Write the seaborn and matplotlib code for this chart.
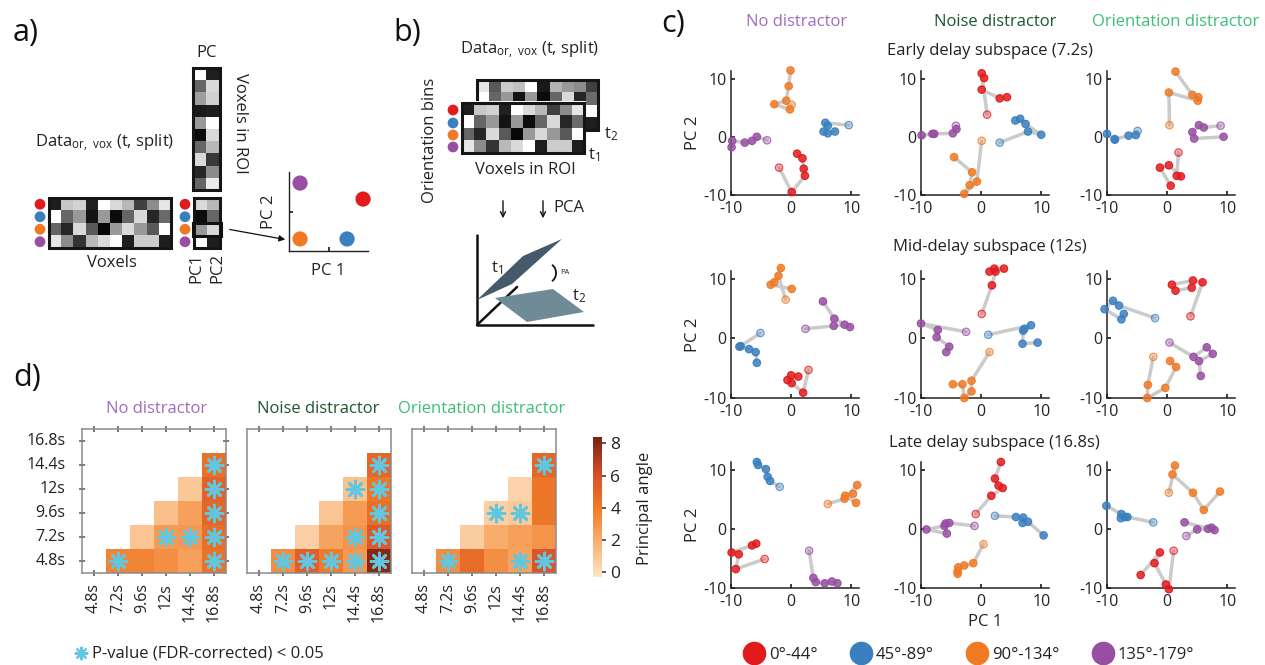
import numpy as np
import pandas as pd
import matplotlib
matplotlib.use("Agg")
import matplotlib.pyplot as plt
import seaborn as sns
from matplotlib.patches import Polygon, Rectangle, Arc
from matplotlib.lines import Line2D
from matplotlib.colors import LinearSegmentedColormap, to_rgba

# ---------------- data ----------------
bins = ["0°-44°", "45°-89°", "90°-134°", "135°-179°"]
bin_colors = ["#e31a1c", "#3a80c0", "#f07a24", "#984ea3"]
conditions = ["No distractor", "Noise distractor", "Orientation distractor"]
cond_colors = ["#a06cc0", "#1d5630", "#3dbf78"]
subspaces = ["Early delay subspace (7.2s)", "Mid-delay subspace (12s)", "Late delay subspace (16.8s)"]
times = ["4.8s", "7.2s", "9.6s", "12s", "14.4s", "16.8s"]

# PC1 / PC2 trajectories (first point = pale)
early_none = {
    "0°-44°": ([-2.0, 0.1, 2.3, 2.1, 1.9, 1.0], [-5.3, -9.5, -6.7, -5.5, -3.7, -2.9]),
    "45°-89°": ([9.6, 5.7, 6.1, 5.4, 6.1, 7.3], [2.0, 2.4, 1.9, 0.9, 0.6, 0.9]),
    "90°-134°": ([0.1, -0.2, -2.8, -0.8, -0.4, -0.1], [5.5, 4.7, 5.6, 6.2, 8.7, 11.4]),
    "135°-179°": ([-4.0, -5.7, -6.5, -7.7, -9.8, -9.9], [-0.6, 0.0, -0.7, -1.0, -0.7, -1.8]),
}
early_noise = {
    "0°-44°": ([1.0, 0.1, 0.5, 0.1, 3.1, 4.3], [3.8, 10.9, 10.1, 8.1, 6.6, 6.8]),
    "45°-89°": ([3.1, 7.8, 10.0, 7.4, 6.5, 5.7], [-1.0, 0.9, 0.35, 2.2, 3.1, 2.8]),
    "90°-134°": ([0.1, -0.7, -2.8, -1.9, -1.5, -4.5], [-0.7, -7.7, -9.8, -8.3, -6.1, -3.5]),
    "135°-179°": ([-4.2, -4.1, -4.7, -7.8, -8.1, -9.9], [1.9, 1.3, 0.6, 0.5, 0.5, 0.25]),
}
early_orient = {
    "0°-44°": ([1.9, 1.6, 2.3, 0.3, -1.2, 0.6], [-2.7, -6.7, -6.8, -4.9, -5.3, -8.4]),
    "45°-89°": ([-4.9, -5.2, -6.4, -8.7, -8.7, -10.0], [1.0, 0.3, 0.2, -0.4, -0.5, 0.5]),
    "90°-134°": ([0.4, 0.3, 5.1, 5.2, 4.2, 1.4], [2.0, 7.6, 6.2, 6.8, 7.2, 11.2]),
    "135°-179°": ([8.9, 6.1, 5.3, 4.2, 4.5, 9.4], [1.9, 1.6, 2.0, 0.8, -0.3, 0.0]),
}
mid_none = {
    "0°-44°": ([2.9, 2.0, 0.1, -0.6, 0.0, 1.2], [-5.3, -9.1, -7.5, -7.0, -6.2, -6.4]),
    "45°-89°": ([-5.1, -8.4, -8.6, -7.0, -5.9, -5.7], [0.9, -1.3, -1.4, -1.8, -2.3, -4.1]),
    "90°-134°": ([-0.9, -2.1, -1.7, -2.8, -3.4, 0.1], [6.5, 10.5, 11.8, 9.4, 9.0, 8.3]),
    "135°-179°": ([2.4, 7.1, 8.9, 9.8, 7.2, 5.3], [1.6, 2.1, 2.3, 1.9, 3.3, 6.2]),
}
mid_noise = {
    "0°-44°": ([0.1, 1.8, 2.4, 1.4, 2.2, 3.8], [4.1, 8.9, 11.2, 11.2, 11.7, 11.7]),
    "45°-89°": ([1.2, 8.3, 7.2, 7.0, 6.9, 9.4], [0.6, 2.2, 1.6, 1.3, -0.9, -0.7]),
    "90°-134°": ([1.4, -1.6, -1.6, -2.8, -3.1, -4.7], [-2.3, -7.1, -8.9, -10.0, -7.7, -7.7]),
    "135°-179°": ([-2.5, -10.0, -7.2, -7.4, -5.3, -5.8], [1.1, 2.5, 1.4, 0.2, -1.4, -2.3]),
}
mid_orient = {
    "0°-44°": ([3.9, 5.9, 4.3, 0.8, 1.4, 4.1], [3.7, 9.4, 9.7, 9.0, 8.0, 8.5]),
    "45°-89°": ([-2.0, -8.0, -9.0, -10.4, -7.6, -7.2], [3.4, 5.5, 6.3, 4.9, 3.2, 4.1]),
    "90°-134°": ([-2.3, -3.2, -3.3, -0.3, 1.5, 0.5], [-3.1, -7.8, -10.0, -8.3, -4.8, -3.8]),
    "135°-179°": ([0.4, 4.4, 6.6, 7.6, 5.3, 5.6], [-0.7, -3.1, -1.5, -2.6, -3.8, -6.3]),
}
late_none = {
    "0°-44°": ([-4.4, -9.2, -8.7, -9.9, -6.5, -5.8], [-5.1, -6.8, -4.3, -4.0, -2.8, -2.5]),
    "45°-89°": ([-1.9, -3.5, -3.9, -4.2, -5.5, -5.7], [7.1, 8.1, 8.8, 10.1, 10.8, 11.3]),
    "90°-134°": ([6.1, 8.9, 11.0, 10.3, 9.0, 10.8], [4.2, 5.1, 7.4, 5.9, 5.6, 4.4]),
    "135°-179°": ([3.0, 3.7, 4.1, 5.6, 6.8, 7.7], [-3.7, -8.3, -9.0, -9.2, -8.9, -9.2]),
}
late_noise = {
    "0°-44°": ([-0.9, 1.7, 3.6, 2.9, 2.3, 3.3], [2.5, 5.6, 6.9, 7.3, 8.5, 11.3]),
    "45°-89°": ([2.3, 5.8, 7.0, 6.9, 7.8, 10.4], [2.2, 2.0, 1.9, 1.0, 1.2, -1.1]),
    "90°-134°": ([0.4, -1.3, -2.8, -3.8, -3.9, -3.9], [-2.6, -5.8, -6.2, -6.5, -7.2, -7.6]),
    "135°-179°": ([-1.1, -5.3, -6.1, -9.1, -5.7, -5.9], [0.5, 1.0, 0.5, -0.1, -0.8, 0.9]),
}
late_orient = {
    "0°-44°": ([1.1, 0.3, -0.2, -2.1, -1.2, -4.4], [-3.7, -10.2, -9.4, -5.8, -4.0, -7.8]),
    "45°-89°": ([-2.3, -6.6, -7.0, -7.7, -7.6, -10.1], [1.1, 2.0, 2.0, 1.8, 2.5, 3.9]),
    "90°-134°": ([0.3, 1.3, 0.9, 4.3, 6.1, 8.8], [6.1, 10.7, 9.2, 6.1, 3.2, 6.3]),
    "135°-179°": ([3.2, 5.0, 6.8, 7.4, 7.9, 2.9], [-1.2, -0.1, 0.0, 0.2, -0.2, 1.1]),
}

nan = np.nan
# principal angle: row = first time, column = second time
pa_none = [[nan, 3.6, 3.7, 3.2, 2.5, 4.4],
           [nan, nan, 1.0, 2.7, 2.8, 4.6],
           [nan, nan, nan, 1.2, 2.5, 5.0],
           [nan, nan, nan, nan, 0.9, 5.2],
           [nan, nan, nan, nan, nan, 4.5],
           [nan, nan, nan, nan, nan, nan]]
pa_noise = [[nan, 3.3, 5.3, 4.0, 2.8, 8.0],
            [nan, nan, 0.6, 2.4, 3.0, 5.6],
            [nan, nan, nan, 1.0, 2.7, 4.5],
            [nan, nan, nan, nan, 1.1, 4.2],
            [nan, nan, nan, nan, nan, 5.0],
            [nan, nan, nan, nan, nan, nan]]
pa_orient = [[nan, 3.3, 4.7, 3.2, 2.4, 5.8],
             [nan, nan, 0.7, 2.0, 2.5, 3.0],
             [nan, nan, nan, 0.6, 0.8, 4.2],
             [nan, nan, nan, nan, 0.4, 4.3],
             [nan, nan, nan, nan, nan, 5.0],
             [nan, nan, nan, nan, nan, nan]]
sig_none = [(0, 1), (0, 5), (1, 3), (1, 4), (1, 5), (2, 5), (3, 5), (4, 5)]
sig_noise = [(0, 1), (0, 2), (0, 3), (0, 4), (0, 5), (1, 4), (1, 5), (2, 5), (3, 4), (3, 5), (4, 5)]
sig_orient = [(0, 1), (0, 4), (0, 5), (2, 3), (2, 4), (4, 5)]

# schematic data (panel a / b)
data_gray = [[0.12, 0.78, 0.82, 0.13, 1.0, 0.85, 0.72, 0.25, 0.55, 0.9],
             [1.0, 0.4, 0.6, 0.08, 0.6, 0.05, 0.4, 0.85, 0.15, 0.42],
             [0.4, 0.15, 0.85, 0.35, 0.03, 0.6, 0.85, 0.6, 0.35, 1.0],
             [0.9, 0.55, 0.2, 0.72, 0.85, 1.0, 0.12, 0.8, 0.8, 0.12]]
back_gray = [[0.9, 0.35, 0.8, 0.75, 1.0, 0.1, 0.7, 0.6, 0.55, 0.25],
             [1.0, 0.4, 0.6, 0.08, 0.6, 0.05, 0.4, 0.85, 0.15, 0.42],
             [0.5, 0.8, 0.3, 0.9, 0.2, 0.6, 0.95, 0.3, 0.7, 1.0],
             [0.3, 0.6, 0.9, 0.2, 0.5, 0.8, 0.4, 0.6, 0.3, 0.12]]
pc_gray = [[1.0, 0.12], [0.4, 0.85], [0.62, 0.82], [0.1, 0.12], [0.6, 1.0],
           [0.05, 0.85], [0.4, 0.72], [0.85, 0.22], [0.15, 0.55], [0.4, 0.92]]
proj_gray = [[0.85, 0.72], [0.05, 0.4], [0.6, 0.85], [1.0, 0.12]]
demo_pc1 = [3.75, 2.94, 0.56, 0.56]
demo_pc2 = [2.63, 0.61, 0.61, 3.44]

# ---------------- style ----------------
sns.set_theme(style="white")
plt.rcParams['font.family'] = ['Open Sans', 'DejaVu Sans']
plt.rcParams['mathtext.default'] = 'regular'
TXT = '#222222'
FS = 12

W, H = 1265, 665
fig = plt.figure(figsize=(W / 100, H / 100), dpi=100)


def fax(l, t, w, h, **kw):
    return fig.add_axes([l / W, 1 - (t + h) / H, w / W, h / H], **kw)


# overlay in pixel coordinates for schematics and labels
ax0 = fax(0, 0, W, H)
ax0.set_axis_off()
ax0.patch.set_alpha(0)


def gray_matrix(M, x0, y0, x1, y1, lw=2.2, z=2):
    ax0.imshow(np.array(M), cmap='gray', vmin=0, vmax=1, extent=(x0, x1, y1, y0),
               aspect='auto', interpolation='nearest', zorder=z)
    ax0.add_patch(Rectangle((x0, y0), x1 - x0, y1 - y0, fill=False, ec='#151515', lw=lw, zorder=z + 0.5))


def row_dots(x, y0, y1, n=4):
    h = (y1 - y0) / n
    ax0.scatter([x] * n, [y0 + (i + 0.5) * h for i in range(n)], s=60, c=bin_colors, zorder=6, lw=0)


# panel labels
for lab, x, y in [("a)", 13, 33), ("b)", 393, 33), ("c)", 661, 24), ("d)", 13, 378)]:
    ax0.text(x, y, lab, fontsize=22, va='center', ha='left', color='#111')

# ---- panel a ----
gray_matrix(data_gray, 49, 198, 171, 248)
row_dots(40, 198, 248)
gray_matrix(pc_gray, 193, 68, 220, 190)
gray_matrix(proj_gray, 194, 198, 220, 248)
row_dots(185, 198, 248)
ax0.add_patch(Rectangle((193, 223), 28, 13, fill=False, ec='#111', lw=2.2, zorder=5))
ax0.text(207, 53, "PC", fontsize=FS, ha='center', va='center', color=TXT)
ax0.text(240, 123, "Voxels in ROI", fontsize=FS, rotation=-90, ha='center', va='center', color=TXT)
ax0.text(105, 143, "Data$_{or,\\ vox}$ (t, split)", fontsize=FS, ha='center', va='center', color=TXT)
ax0.text(112, 263, "Voxels", fontsize=FS, ha='center', va='center', color=TXT)
ax0.text(196, 268, "PC1", fontsize=FS, rotation=90, ha='center', va='center', color=TXT)
ax0.text(217, 268, "PC2", fontsize=FS, rotation=90, ha='center', va='center', color=TXT)
ax0.annotate('', xy=(288, 240), xytext=(227, 229),
             arrowprops=dict(arrowstyle='-|>', color='#111', lw=0.9, mutation_scale=9))

axd = fax(289, 172, 79, 79)
sns.scatterplot(x=demo_pc1, y=demo_pc2, hue=bins, palette=bin_colors, s=120, ax=axd,
                legend=False, linewidth=0, clip_on=False)
axd.set(xlim=(0, 4), ylim=(0, 4), xticks=[2], yticks=[2], xticklabels=[], yticklabels=[])
sns.despine(ax=axd)
axd.tick_params(left=True, bottom=True, direction='in', length=3, color='#222')
for s in axd.spines.values():
    s.set_color('#222'); s.set_linewidth(1)
axd.set_xlabel("PC 1", fontsize=FS, color=TXT, labelpad=5)
axd.set_ylabel("PC 2", fontsize=FS, color=TXT, labelpad=5)
axd.patch.set_alpha(0)

# ---- panel b ----
ax0.text(530, 50, "Data$_{or,\\ vox}$ (t, split)", fontsize=FS, ha='center', va='center', color=TXT)
gray_matrix(back_gray, 477, 80, 598, 130, z=2)
ax0.add_patch(Rectangle((460, 101), 126, 54, fc='white', ec='none', zorder=3))
gray_matrix(data_gray, 462, 103, 584, 153, z=4)
ax0.scatter([453] * 4, [110, 123, 135, 147], s=60, c=bin_colors, zorder=6, lw=0)
ax0.text(611, 134, "t$_2$", fontsize=FS, ha='center', va='center', color=TXT)
ax0.text(594, 155, "t$_1$", fontsize=FS, ha='center', va='center', color=TXT)
ax0.text(430, 140, "Orientation bins", fontsize=FS, rotation=90, ha='center', va='center', color=TXT)
ax0.text(525, 170, "Voxels in ROI", fontsize=FS, ha='center', va='center', color=TXT)
for xa in (503, 543):
    ax0.annotate('', xy=(xa, 221), xytext=(xa, 198),
                 arrowprops=dict(arrowstyle='->', color='#111', lw=1.0, mutation_scale=9))
ax0.text(553, 208, "PCA", fontsize=FS, ha='left', va='center', color=TXT)
ax0.plot([477, 477, 593], [235, 325, 325], color='#111', lw=1.8, zorder=2)
ax0.plot([477, 517], [325, 287], color='#111', lw=1.8, zorder=2)
plane_t1 = [(477, 300), (523, 256), (562, 239), (512, 284)]
plane_t2 = [(495, 298), (553, 289), (584, 312), (527, 322)]
ax0.add_patch(Polygon(plane_t1, closed=True, fc='#46596a', ec='none', zorder=3))
ax0.add_patch(Polygon(plane_t2, closed=True, fc='#6f8b98', ec='none', zorder=3))
ax0.text(497, 268, "t$_1$", fontsize=FS, ha='center', va='center', color=TXT)
ax0.text(579, 296, "t$_2$", fontsize=FS, ha='center', va='center', color=TXT)
ax0.add_patch(Arc((549, 273), 14, 18, theta1=-70, theta2=70, color='#111', lw=1.3, zorder=4))
ax0.text(560, 273, "PA", fontsize=5.5, ha='left', va='center', color=TXT)

# ---- panel c ----
panels = [[early_none, early_noise, early_orient],
          [mid_none, mid_noise, mid_orient],
          [late_none, late_noise, late_orient]]
col_left = [731, 921, 1107]
row_top = [71, 271, 462]
row_h = [124, 127, 126]
for c, (name, col) in enumerate(zip(conditions, cond_colors)):
    ax0.text([797, 995, 1176][c], 22, name, color=col, fontsize=FS, ha='center', va='center')
for r, sub in enumerate(subspaces):
    ax0.text([990, 990, 994][r], [51, 247, 443][r], sub, color=TXT, fontsize=FS, ha='center', va='center')

for r in range(3):
    for c in range(3):
        ax = fax(col_left[c], row_top[r], 128, row_h[r])
        ax.patch.set_alpha(0)
        d = panels[r][c]
        for b, colr in zip(bins, bin_colors):
            xs, ys = d[b]
            sns.lineplot(x=xs, y=ys, sort=False, estimator=None, color='#cbcbcb', lw=2.5,
                         ax=ax, zorder=1, clip_on=False)
        for b, colr in zip(bins, bin_colors):
            xs, ys = d[b]
            fc = [to_rgba(colr, 0.3)] + [to_rgba(colr, 0.82)] * (len(xs) - 1)
            ec = [to_rgba(colr, 0.75)] + [to_rgba(colr, 0.95)] * (len(xs) - 1)
            ax.scatter(xs, ys, s=28, facecolors=fc, edgecolors=ec, linewidths=0.9, zorder=3, clip_on=False)
        ax.set(xlim=(-10, 11.3), ylim=(-10, 11.3), xticks=[-10, 0, 10], yticks=[-10, 0, 10])
        ax.set_xticklabels(["-10", "0", "10"])
        ax.set_yticklabels(["-10", "0", "10"])
        sns.despine(ax=ax)
        for s in ax.spines.values():
            s.set_color('#222'); s.set_linewidth(1.1)
        ax.tick_params(left=True, bottom=True, direction='in', length=3, color='#222',
                       labelsize=11.5, labelcolor=TXT)
        ax.tick_params(axis='x', pad=4)
        ax.tick_params(axis='y', pad=3)
        if c == 0:
            ax.set_ylabel("PC 2", fontsize=FS, color=TXT, labelpad=2)
        if r == 2 and c == 1:
            ax.set_xlabel("PC 1", fontsize=FS, color=TXT, labelpad=3)

handles = [Line2D([], [], marker='o', ls='', markersize=16, markerfacecolor=cc, markeredgecolor=cc)
           for cc in bin_colors]
fig.legend(handles, bins, loc='center', bbox_to_anchor=(970 / W, 1 - 655 / H), ncol=4, frameon=False,
           fontsize=FS, handlelength=1.0, handletextpad=0.4, columnspacing=2.1, labelcolor=TXT,
           borderpad=0.1)

# ---- panel d ----
cmap = LinearSegmentedColormap.from_list(
    "pa", [(0.0, "#fde4c6"), (0.27, "#f8ab6a"), (0.5, "#ef7a28"), (0.72, "#d9512a"), (1.0, "#772210")])
vmin, vmax = -0.3, 8.4
cax = fax(593, 437, 9, 140)
hm_left = [82, 247, 412]
for k, (pa, sig, name, col) in enumerate(zip([pa_none, pa_noise, pa_orient],
                                             [sig_none, sig_noise, sig_orient],
                                             conditions, cond_colors)):
    ax = fax(hm_left[k], 429, 144, 144)
    df = pd.DataFrame(np.array(pa)[::-1], index=times[::-1], columns=times)
    sns.heatmap(df, ax=ax, cmap=cmap, vmin=vmin, vmax=vmax, cbar=(k == 2),
                cbar_ax=cax if k == 2 else None,
                xticklabels=times, yticklabels=times[::-1] if k == 0 else False)
    sx = [j + 0.5 for (i, j) in sig]
    sy = [5 - i + 0.5 for (i, j) in sig]
    ax.scatter(sx, sy, marker=(8, 2, 0), s=150, color='#62c6de', linewidths=2.0, zorder=5)
    for s in ax.spines.values():
        s.set_visible(True); s.set_color('#8a8a8a'); s.set_linewidth(1.1)
    ax.tick_params(axis='x', bottom=True, top=True, direction='inout', length=4, color='#666',
                   labelsize=11.5, labelcolor=TXT, rotation=90, pad=5)
    ax.tick_params(axis='y', left=True, right=True, direction='inout', length=4, color='#666',
                   labelsize=11.5, labelcolor=TXT, rotation=0, pad=10)
    ax.set_xlabel(""); ax.set_ylabel("")
    ax0.text([157, 318, 482][k], 409, name, color=col, fontsize=FS, ha='center', va='center')

cax.tick_params(labelsize=12.5, labelcolor=TXT, right=True, length=3, color='#444', pad=3)
cax.set_yticks([0, 2, 4, 6, 8])
for s in cax.spines.values():
    s.set_visible(False)
ax0.text(645, 508, "Principal angle", fontsize=FS, rotation=90, ha='center', va='center', color=TXT)

ax0.scatter([81], [653], marker=(8, 2, 0), s=70, color='#62c6de', linewidths=1.6, zorder=5)
ax0.text(92, 653, "P-value (FDR-corrected) < 0.05", fontsize=FS, ha='left', va='center', color=TXT)

ax0.set_xlim(0, W)
ax0.set_ylim(H, 0)

fig.savefig("out.png", dpi=100)
